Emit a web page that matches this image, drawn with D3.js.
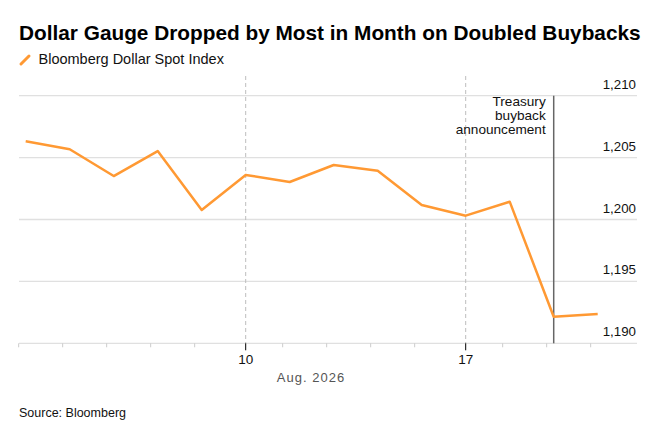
<!DOCTYPE html>
<html lang="en">

<head>
    <meta charset="utf-8">
    <title>Dollar Gauge</title>
    <script src="https://cdn.jsdelivr.net/npm/d3@7"></script>
</head>
<style>
    body {
        margin: 0;
        background: #fff;
        font-family: "Liberation Sans", Arial, sans-serif;
    }
</style>

<body>
    <script>
        // data
        var days = ["2026-08-03", "2026-08-04", "2026-08-05", "2026-08-06", "2026-08-07",
            "2026-08-10", "2026-08-11", "2026-08-12", "2026-08-13", "2026-08-14",
            "2026-08-17", "2026-08-18", "2026-08-19", "2026-08-20"];
        var spot = [1206.32, 1205.67, 1203.51, 1205.53, 1200.77,
            1203.60, 1203.03, 1204.40, 1203.94, 1201.17,
            1200.31, 1201.44, 1192.15, 1192.37];
        var yTicks = [1190, 1195, 1200, 1205, 1210];
        var dayLabels = { "2026-08-10": "10", "2026-08-17": "17" };
        var eventDay = "2026-08-19";
        var eventLabel = ["Treasury", "buyback", "announcement"];

        var width = 660, height = 440;
        var left = 19, right = 637;

        var svg = d3.select("body").append("svg")
            .attr("width", width)
            .attr("height", height);

        var x = d3.scalePoint().domain(days).range([25.7, 597.7]);
        var y = d3.scaleLinear().domain([1190, 1210]).range([343.3, 95.7]);

        // title + legend
        svg.append("text")
            .attr("x", left).attr("y", 39.5)
            .attr("font-size", 20.8).attr("font-weight", "bold")
            .attr("fill", "#000")
            .text("Dollar Gauge Dropped by Most in Month on Doubled Buybacks");

        svg.append("line")
            .attr("x1", 21).attr("y1", 64).attr("x2", 29).attr("y2", 56)
            .attr("stroke", "#ff9933").attr("stroke-width", 3).attr("stroke-linecap", "round");
        svg.append("text")
            .attr("x", 38.5).attr("y", 63.5)
            .attr("font-size", 14.5).attr("fill", "#111")
            .text("Bloomberg Dollar Spot Index");

        // horizontal grid + right labels
        var yg = svg.append("g");
        yg.selectAll("line")
            .data(yTicks)
            .join("line")
            .attr("x1", left).attr("x2", right)
            .attr("y1", d => y(d)).attr("y2", d => y(d))
            .attr("stroke", "#e0e0e0").attr("stroke-width", 1.3);
        yg.selectAll("text")
            .data(yTicks)
            .join("text")
            .attr("x", right - 1).attr("y", d => y(d) - 7)
            .attr("text-anchor", "end")
            .attr("font-size", 13.3).attr("fill", "#111")
            .text(d => d3.format(",")(d));

        // dashed verticals at labelled days
        svg.append("g")
            .selectAll("line")
            .data(Object.keys(dayLabels))
            .join("line")
            .attr("x1", d => x(d)).attr("x2", d => x(d))
            .attr("y1", 76).attr("y2", y(1190))
            .attr("stroke", "#bdbdbd").attr("stroke-width", 1)
            .attr("stroke-dasharray", "4,3");

        // x ticks
        var off = x.step() * 0.16;
        var xg = svg.append("g");
        xg.selectAll("line")
            .data(days)
            .join("line")
            .attr("x1", d => dayLabels[d] ? x(d) : x(d) - off)
            .attr("x2", d => dayLabels[d] ? x(d) : x(d) - off)
            .attr("y1", y(1190))
            .attr("y2", d => dayLabels[d] ? y(1190) + 7 : y(1190) + 4)
            .attr("stroke", d => dayLabels[d] ? "#000" : "#ccc")
            .attr("stroke-width", 1);
        xg.selectAll("text")
            .data(Object.keys(dayLabels))
            .join("text")
            .attr("x", d => x(d)).attr("y", 363.5)
            .attr("text-anchor", "middle")
            .attr("font-size", 13.5).attr("fill", "#111")
            .text(d => dayLabels[d]);
        svg.append("text")
            .attr("x", 311).attr("y", 382)
            .attr("text-anchor", "middle")
            .attr("font-size", 13).attr("fill", "#555")
            .attr("letter-spacing", 1)
            .text("Aug. 2026");

        // event line + note
        svg.append("line")
            .attr("x1", x(eventDay)).attr("x2", x(eventDay))
            .attr("y1", y(1210)).attr("y2", y(1190))
            .attr("stroke", "#666").attr("stroke-width", 1.5);
        svg.append("text")
            .attr("x", x(eventDay) - 8).attr("y", 106)
            .attr("text-anchor", "end")
            .attr("font-size", 13.6).attr("fill", "#111")
            .selectAll("tspan")
            .data(eventLabel)
            .join("tspan")
            .attr("x", x(eventDay) - 8)
            .attr("dy", (d, i) => i ? 14 : 0)
            .text(d => d);

        // series
        svg.append("path")
            .datum(days.map((d, i) => [d, spot[i]]))
            .attr("fill", "none")
            .attr("stroke", "#ff9933")
            .attr("stroke-width", 2.5)
            .attr("stroke-linejoin", "round")
            .attr("d", d3.line().x(d => x(d[0])).y(d => y(d[1])));

        svg.append("text")
            .attr("x", left).attr("y", 416.5)
            .attr("font-size", 12.5).attr("fill", "#111")
            .text("Source: Bloomberg");
    </script>
</body>

</html>
